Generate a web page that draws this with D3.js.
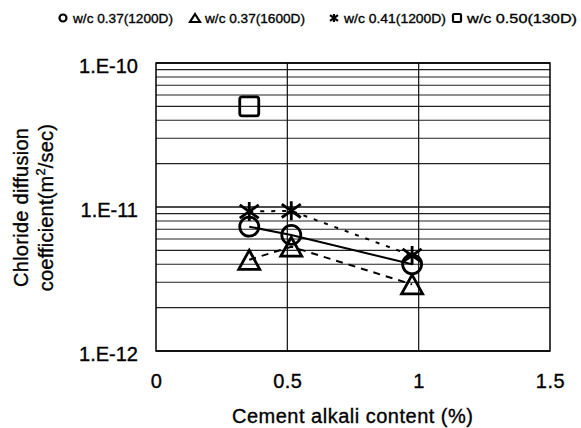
<!DOCTYPE html>
<html><head><meta charset="utf-8">
<script src="https://cdn.jsdelivr.net/npm/d3@7"></script>
<style>body{margin:0;background:#fff}svg{display:block;font-family:"Liberation Sans",Arial,sans-serif}
text{stroke:#000;stroke-width:0.35px;fill:#000;font-variant-ligatures:none;font-feature-settings:"liga" 0,"clig" 0}</style>
</head><body><svg id="c" width="581" height="428"></svg>
<script>
const seriesNames = ["w/c 0.37(1200D)", "w/c 0.37(1600D)", "w/c 0.41(1200D)", "w/c 0.50(130D)"];
const seriesSymbols = ["circle", "triangle", "star", "square"];
const xCircle = [0.355, 0.515, 0.975];
const yCircle = [7.3e-12, 6.4e-12, 4.0e-12];
const xTriangle = [0.355, 0.515, 0.975];
const yTriangle = [4.3e-12, 5.3e-12, 2.9e-12];
const xStar = [0.355, 0.515, 0.975];
const yStar = [9.3e-12, 9.4e-12, 4.6e-12];
const xSquare = [0.355];
const ySquare = [5.0e-11];
const xTicks = [0, 0.5, 1, 1.5];
const xTickLabels = ["0", "0.5", "1", "1.5"];
const yTicks = [1e-12, 1e-11, 1e-10];
const yTickLabels = ["1.E-12", "1.E-11", "1.E-10"];
const xTitle = "Cement alkali content (%)";
const yTitle1 = "Chloride diffusion";
const yTitle2 = "coefficient(m";
const yTitleSup = "2";
const yTitle3 = "/sec)";

const svg = d3.select("#c");
const L = 156, R = 550, T = 63, B = 351;
const x = d3.scaleLinear().domain([0, 1.5]).range([L, R]);
const y = d3.scaleLog().domain([1e-12, 1e-10]).range([B, T]);

// grid
const minor = [];
[1e-12, 1e-11].forEach(d => { for (let k = 2; k <= 9; k++) minor.push(d * k); });
const g = svg.append("g");
g.selectAll("line.mn").data(minor).join("line")
  .attr("x1", L).attr("x2", R).attr("y1", d => y(d)).attr("y2", d => y(d))
  .attr("stroke", "#222").attr("stroke-width", 1.1);
g.selectAll("line.mj").data(yTicks).join("line")
  .attr("x1", L).attr("x2", R).attr("y1", d => y(d)).attr("y2", d => y(d))
  .attr("stroke", "#111").attr("stroke-width", 1.3);
g.selectAll("line.vx").data([0.5, 1]).join("line")
  .attr("x1", d => x(d)).attr("x2", d => x(d)).attr("y1", T).attr("y2", B)
  .attr("stroke", "#111").attr("stroke-width", 1.2);
svg.append("rect").attr("x", L).attr("y", T).attr("width", R - L).attr("height", B - T)
  .attr("fill", "none").attr("stroke", "#000").attr("stroke-width", 1.5);

// axes labels via d3 axes (domain hidden)
const xa = svg.append("g").attr("transform", `translate(0,${B})`)
  .call(d3.axisBottom(x).tickValues(xTicks).tickFormat((d, i) => xTickLabels[i]).tickSize(0).tickPadding(0));
xa.select(".domain").remove();
xa.selectAll("text").attr("font-size", 20).attr("font-family", "Liberation Sans, Arial")
  .attr("fill", "#000").attr("dy", null).attr("y", 37).attr("letter-spacing", 0.5);
const ya = svg.append("g").attr("transform", `translate(${L},0)`)
  .call(d3.axisLeft(y).tickValues(yTicks).tickFormat((d, i) => yTickLabels[i]).tickSize(0).tickPadding(0));
ya.select(".domain").remove();
ya.selectAll("text").attr("font-size", 20).attr("font-family", "Liberation Sans, Arial")
  .attr("fill", "#000").attr("x", -18).attr("dy", "0.45em");

svg.append("text").attr("x", 232).attr("y", 423)
  .attr("font-size", 20).attr("textLength", 241).attr("lengthAdjust", "spacing").text(xTitle);
const yt = svg.append("g").attr("transform", "translate(0,207.5) rotate(-90)");
yt.append("text").attr("x", -79.5).attr("y", 28).attr("font-size", 20)
  .attr("textLength", 159).attr("lengthAdjust", "spacing").text(yTitle1);
const t2 = yt.append("text").attr("x", 0).attr("y", 53).attr("text-anchor", "middle")
  .attr("font-size", 20).attr("letter-spacing", 0.2);
t2.append("tspan").text(yTitle2);
t2.append("tspan").attr("font-size", 13).attr("dy", -8).text(yTitleSup);
t2.append("tspan").attr("dy", 8).text(yTitle3);

// marker drawing
function marker(sel, sym, s, sw) {
  if (sym === "circle") sel.append("circle").attr("r", s / 2).attr("fill", "none").attr("stroke", "#000").attr("stroke-width", sw);
  else if (sym === "triangle") sel.append("path").attr("d", `M0,${-s / 2}L${s / 2 + 1},${s / 2}L${-s / 2 - 1},${s / 2}Z`).attr("fill", "none").attr("stroke", "#000").attr("stroke-width", sw).attr("stroke-linejoin", "miter");
  else if (sym === "square") sel.append("rect").attr("x", -s / 2).attr("y", -s / 2).attr("width", s).attr("height", s).attr("rx", s * 0.12).attr("fill", "none").attr("stroke", "#000").attr("stroke-width", sw);
  else if (sym === "star") {
    const h = s / 2;
    sel.append("path").attr("d", `M0,${-h}V${h}M${-h},${-h * 0.7}L${h},${h * 0.7}M${-h},${h * 0.7}L${h},${-h * 0.7}`).attr("stroke", "#000").attr("stroke-width", sw).attr("fill", "none");
  }
}

const series = [
  { xs: xCircle, ys: yCircle, sym: "circle", dash: null },
  { xs: xTriangle, ys: yTriangle, sym: "triangle", dash: "7,6" },
  { xs: xStar, ys: yStar, sym: "star", dash: "4,7" },
  { xs: xSquare, ys: ySquare, sym: "square", dash: null }
];
const line = d3.line().x(d => x(d[0])).y(d => y(d[1]));
series.forEach(s => {
  const pts = s.xs.map((v, i) => [v, s.ys[i]]);
  if (pts.length > 1) {
    svg.append("path").attr("d", line(pts)).attr("fill", "none").attr("stroke", "#000")
      .attr("stroke-width", 2).attr("stroke-dasharray", s.dash);
  }
});
series.forEach(s => {
  s.xs.forEach((v, i) => {
    const m = svg.append("g").attr("transform", `translate(${x(v)},${y(s.ys[i])})`);
    marker(m, s.sym, 19, 2.8);
  });
});

// legend
const legX = [63, 195, 334, 457];
const legW = [100, 100, 102, 110];
seriesNames.forEach((n, i) => {
  const m = svg.append("g").attr("transform", `translate(${legX[i]},18)`);
  marker(m, seriesSymbols[i], i === 0 ? 7 : 8, 2.2);
  svg.append("text").attr("x", legX[i] + 10).attr("y", 23).attr("font-size", 13.5)
    .attr("textLength", legW[i]).attr("lengthAdjust", "spacingAndGlyphs").text(n);
});
</script></body></html>
